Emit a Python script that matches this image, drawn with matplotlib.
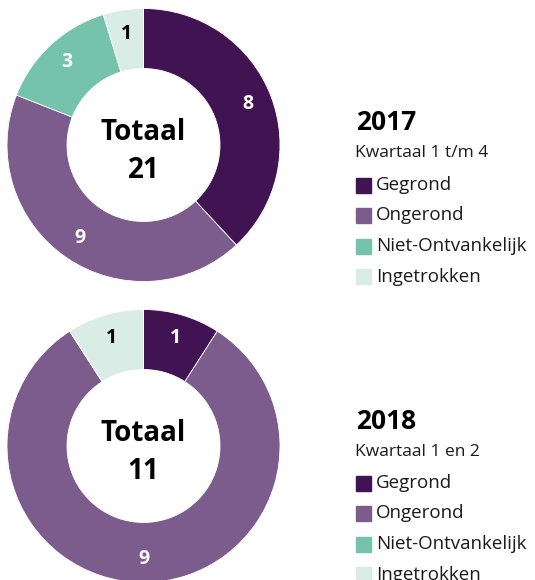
import matplotlib.pyplot as plt
import numpy as np

plt.rcParams['font.family'] = ['Open Sans', 'DejaVu Sans']

# categories and colours
categories = ['Gegrond', 'Ongerond', 'Niet-Ontvankelijk', 'Ingetrokken']
colors = ['#421353', '#7b5c8c', '#75c3aa', '#d9ede6']
label_colors = ['white', 'white', 'white', 'black']

# counts per year
values_2017 = [8, 9, 3, 1]
values_2018 = [1, 9, 0, 1]
years = ['2017', '2018']
periods = ['Kwartaal 1 t/m 4', 'Kwartaal 1 en 2']

W, H = 535, 580
R_OUT, R_IN = 136.5, 76.5
fig = plt.figure(figsize=(W / 100, H / 100), dpi=100)


def px_axes(cx, cy, r):
    # square axes centred at pixel (cx, cy), top-left origin
    return fig.add_axes([(cx - r) / W, 1 - (cy + r) / H, 2 * r / W, 2 * r / H])


def donut(cx, cy, values, year, period, title_y, row_y):
    ax = px_axes(cx, cy, R_OUT)
    wedges, _ = ax.pie(values, colors=colors, startangle=90, counterclock=False,
                       radius=1, wedgeprops=dict(width=1 - R_IN / R_OUT,
                                                 edgecolor='white', linewidth=0.6))
    ax.set_xlim(-1, 1)
    ax.set_ylim(-1, 1)
    ax.set_aspect('equal')
    ax.axis('off')
    for w, v, lc in zip(wedges, values, label_colors):
        if v == 0:
            continue
        ang = np.deg2rad((w.theta1 + w.theta2) / 2)
        rr = 0.825
        ax.text(rr * np.cos(ang), rr * np.sin(ang), str(v), ha='center', va='center',
                fontsize=14, fontweight='bold', color=lc)
    ax.text(0, 0.033, 'Totaal', ha='center', va='baseline',
            fontsize=20, fontweight='bold', color='black')
    ax.text(0, -0.242, str(sum(values)), ha='center', va='baseline',
            fontsize=20, fontweight='bold', color='black')

    # legend block
    fig.text(356 / W, 1 - title_y / H, year, fontsize=19, fontweight='bold',
             va='center', ha='left')
    fig.text(355 / W, 1 - (title_y + 30) / H, period, fontsize=12.5,
             va='center', ha='left', color='#1a1a1a')
    for i, (cat, col) in enumerate(zip(categories, colors)):
        y = row_y + 30.5 * i
        fig.patches.append(plt.Rectangle((356 / W, 1 - (y + 7.5) / H), 15 / W, 15 / H,
                                         color=col, transform=fig.transFigure))
        fig.text(376 / W, 1 - y / H, cat, fontsize=13.5, va='center', ha='left',
                 color='#1a1a1a')


donut(143.5, 145, values_2017, years[0], periods[0], 122.5, 185)
donut(143.5, 446, values_2018, years[1], periods[1], 421.5, 483)

fig.savefig('out.png', dpi=100, facecolor='white')
